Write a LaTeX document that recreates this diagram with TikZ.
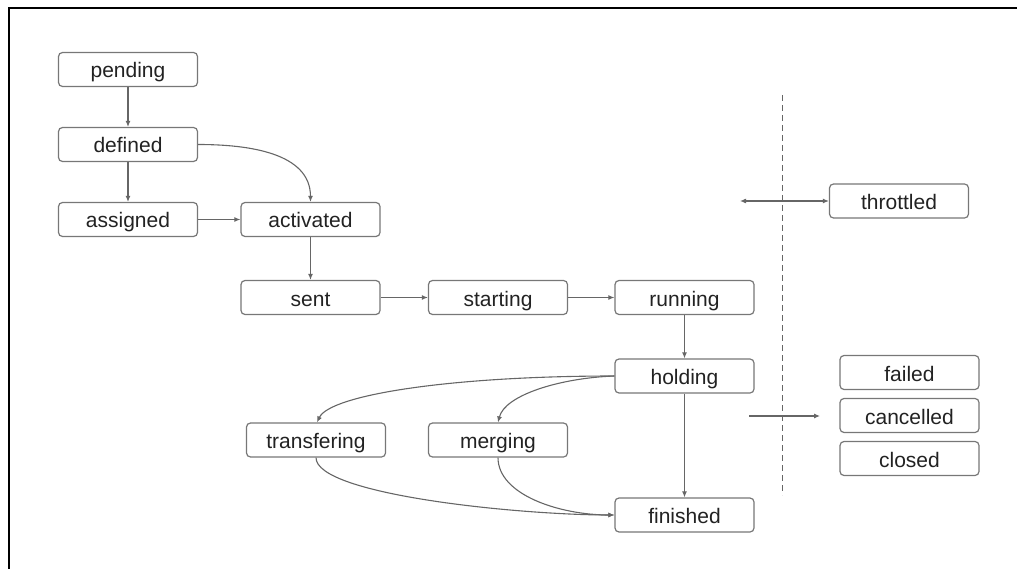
\documentclass[tikz,border=0pt]{standalone}
\usepackage{fontspec}
\setmainfont{Liberation Sans}
\usetikzlibrary{arrows.meta}
\definecolor{boxline}{HTML}{777777}
\definecolor{arrline}{HTML}{666666}
\definecolor{txt}{HTML}{222222}
\begin{document}
\begin{tikzpicture}[x=1pt,y=-1pt,
  state/.style={draw=boxline, line width=1.2pt, rounded corners=4pt, minimum width=139pt, minimum height=34pt, inner sep=0pt, text height=19pt, text depth=2pt, text=txt, font=\fontsize{21}{25}\selectfont},
  conn/.style={draw=arrline, line width=1.1pt, -{Latex[length=6pt,width=5pt]}},
  conn2/.style={draw=arrline, line width=1.1pt, {Latex[length=6pt,width=5pt]}-{Latex[length=6pt,width=5pt]}}]
\useasboundingbox (0,0) rectangle (1017,569);
\draw[black, line width=2pt] (9,569) -- (9,8) -- (1017,8);
% nodes
\node[state] (pending) at (128,69.5) {pending};
\node[state] (defined) at (128,144.5) {defined};
\node[state] (assigned) at (128,219.5) {assigned};
\node[state] (activated) at (310.5,219.5) {activated};
\node[state] (sent) at (310.5,297.5) {sent};
\node[state] (starting) at (498,297.5) {starting};
\node[state] (running) at (684.5,297.5) {running};
\node[state] (holding) at (684.5,376) {holding};
\node[state] (finished) at (684.5,515) {finished};
\node[state] (transfering) at (316,440) {transfering};
\node[state] (merging) at (498,440) {merging};
\node[state] (throttled) at (899,201) {throttled};
\node[state] (failed) at (909.5,372.5) {failed};
\node[state] (cancelled) at (909.5,415.5) {cancelled};
\node[state] (closed) at (909.5,458.5) {closed};
\coordinate (dtop) at (782,95);
\coordinate (dbot) at (782,495);
\coordinate (thl) at (740,201);
\coordinate (ts) at (749,416);
\coordinate (te) at (820,416);
% connectors
\draw[arrline, line width=1pt, dash pattern=on 6pt off 4pt] (dtop) -- (dbot);
\draw[conn] (pending) -- (defined);
\draw[conn] (defined) -- (assigned);
\draw[conn] (assigned) -- (activated);
\draw[conn] (defined.east) to[out=0,in=90] (activated.north);
\draw[conn] (activated) -- (sent);
\draw[conn] (sent) -- (starting);
\draw[conn] (starting) -- (running);
\draw[conn] (running) -- (holding);
\draw[conn] (holding) -- (finished);
\draw[conn] (holding.west) .. controls (450,376) and (330,395) .. ([xshift=1pt]transfering.north);
\draw[conn] (holding.west) .. controls (560,378) and (505,395) .. (merging.north);
\draw[conn] (transfering.south) .. controls (316,495) and (520,515) .. (finished.west);
\draw[conn] (merging.south) .. controls (498,495) and (560,515) .. (finished.west);
\draw[conn2] (thl) -- (throttled.west);
\draw[conn] (ts) -- (te);
\end{tikzpicture}
\end{document}
